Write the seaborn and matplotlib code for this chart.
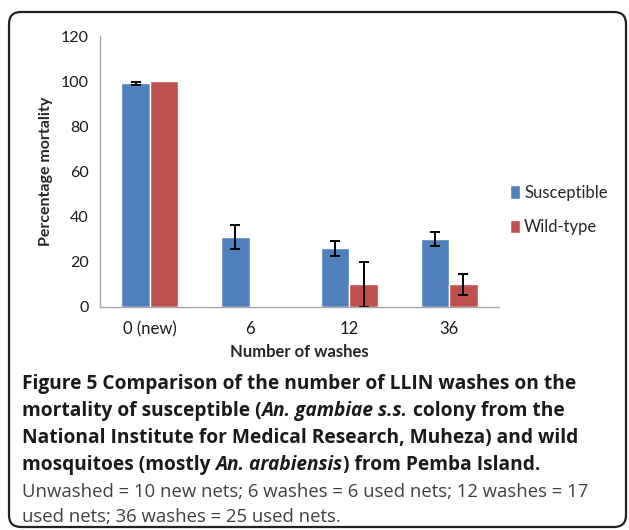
import numpy as np
import pandas as pd
import matplotlib
matplotlib.use("Agg")
import matplotlib.pyplot as plt
import seaborn as sns
from matplotlib.patches import FancyBboxPatch
from matplotlib.transforms import IdentityTransform

washes = ["0 (new)", "6", "12", "36"]
susceptible = [99, 31, 26, 30]
susceptible_err = [0.5, 5.3, 3.3, 3.0]
wild_type = [100, 0, 10, 10]
wild_type_err = [0, 0, 10, 4.6]
groups = ["Susceptible", "Wild-type"]

df = pd.DataFrame({
    "washes": washes * 2,
    "mortality": susceptible + wild_type,
    "group": [groups[0]] * 4 + [groups[1]] * 4,
})

sns.set_style("white")
plt.rcParams["font.family"] = ["Lato", "DejaVu Sans"]

W, H = 629, 530
fig = plt.figure(figsize=(W / 100, H / 100), dpi=100)

# rounded frame round the whole figure panel
frame = FancyBboxPatch((9, 3), 617, 515, boxstyle="round,pad=0,rounding_size=12",
                       transform=IdentityTransform(), fill=False, edgecolor="#222222",
                       linewidth=1.6, clip_on=False)
fig.patches.append(frame)

ax = fig.add_axes([100 / W, 1 - 307 / H, 399 / W, 271 / H])
sns.barplot(data=df, x="washes", y="mortality", hue="group", order=washes,
            palette=["#4F81BD", "#C0504D"], width=0.57, gap=0, saturation=1,
            errorbar=None, ax=ax)

for cont, errs in zip(ax.containers, [susceptible_err, wild_type_err]):
    for bar, e in zip(cont, errs):
        if e > 0:
            ax.errorbar(bar.get_x() + bar.get_width() / 2, bar.get_height(), yerr=e,
                        color="black", capsize=3.5, elinewidth=1.4, capthick=1.4)

ax.set_ylim(0, 120)
ax.set_yticks(range(0, 121, 20))
ax.set_xlim(-0.5, 3.5)
ax.set_xticks(np.arange(-0.5, 4, 1), minor=True)
ax.tick_params(axis="x", which="major", length=0, labelsize=12, pad=10, colors="#1a1a1a")
ax.tick_params(axis="x", which="minor", length=6, width=1, color="#A6A6A6", direction="out")
ax.tick_params(axis="y", length=5, width=1, color="#A6A6A6", direction="out",
               labelsize=11.5, labelcolor="#1a1a1a", pad=3)
for s in ["top", "right"]:
    ax.spines[s].set_visible(False)
for s in ["left", "bottom"]:
    ax.spines[s].set_color("#A6A6A6")
    ax.spines[s].set_linewidth(1)

ax.set_xlabel("Number of washes", fontsize=12, fontweight="bold", labelpad=5)
ax.set_ylabel("Percentage mortality", fontsize=11.5, fontweight="bold", labelpad=6)

ax.legend(loc="center left", bbox_to_anchor=(495 / W, 1 - 210 / H),
          bbox_transform=fig.transFigure, frameon=False, fontsize=12,
          handlelength=0.6, handleheight=0.85, handletextpad=0.25, labelspacing=1.1)

# caption with mixed bold / italic runs
fig.canvas.draw()
renderer = fig.canvas.get_renderer()


def run_width(text, **kw):
    t1 = fig.text(0, 0, "X" + text + "X", **kw)
    t2 = fig.text(0, 0, "XX", **kw)
    w = t1.get_window_extent(renderer).width - t2.get_window_extent(renderer).width
    t1.remove()
    t2.remove()
    return w


def caption_line(y, runs, size, color, weight):
    x = 22
    for text, style in runs:
        kw = dict(fontsize=size, fontweight=weight, fontstyle=style, color=color,
                  family=["Open Sans", "DejaVu Sans"])
        fig.text(x, H - y, text, transform=IdentityTransform(), va="baseline", **kw)
        x += run_width(text, **kw)


bold_lines = [
    [("Figure 5 Comparison of the number of LLIN washes on the", "normal")],
    [("mortality of susceptible (", "normal"), ("An. gambiae s.s.", "italic"),
     (" colony from the", "normal")],
    [("National Institute for Medical Research, Muheza) and wild", "normal")],
    [("mosquitoes (mostly ", "normal"), ("An. arabiensis", "italic"),
     (") from Pemba Island.", "normal")],
]
plain_lines = [
    [("Unwashed = 10 new nets; 6 washes = 6 used nets; 12 washes = 17", "normal")],
    [("used nets; 36 washes = 25 used nets.", "normal")],
]
for i, runs in enumerate(bold_lines):
    caption_line(389 + 27 * i, runs, 13.8, "#1a1a1a", "bold")
for i, runs in enumerate(plain_lines):
    caption_line(497 + 25 * i, runs, 13.3, "#404040", "normal")

fig.savefig("out.png", dpi=100)
